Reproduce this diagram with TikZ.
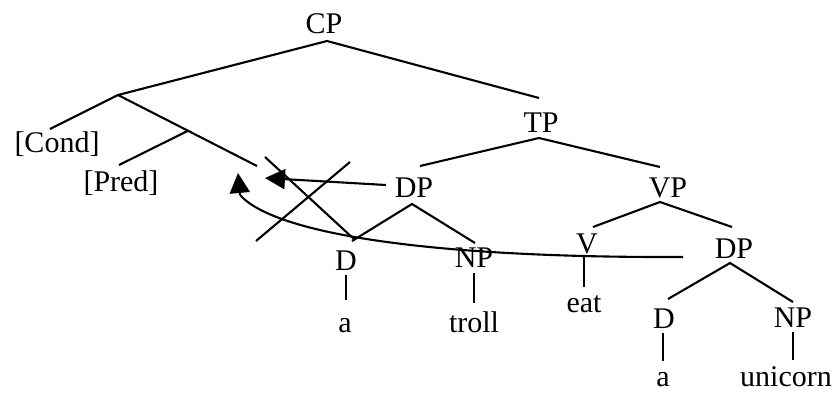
\documentclass[tikz,border=0pt]{standalone}
\usepackage{fontspec}
\setmainfont{Liberation Serif}
\usetikzlibrary{arrows.meta}
\begin{document}
\begin{tikzpicture}[x=1pt,y=-1pt,
  lbl/.style={anchor=base,inner sep=0pt,font=\fontsize{30}{36}\selectfont},
  br/.style={line width=2.1pt},
  arr/.style={line width=2.1pt,-{Triangle[length=20pt,width=20pt]}}]
\useasboundingbox (0,0) rectangle (838,392);
% labels
\node[lbl] (CP) at (324,33) {CP};
\node[lbl] (TP) at (541,132) {TP};
\node[lbl] (DP) at (414,197) {DP};
\node[lbl] (VP) at (668,197) {VP};
\node[lbl] (Cond) at (57,152) {[Cond]};
\node[lbl] (Pred) at (121,191) {[Pred]};
\node[lbl] (D) at (346,270) {D};
\node[lbl] (NP) at (474,267) {NP};
\node[lbl] (V) at (587,253) {V};
\node[lbl] (DPb) at (734,258) {DP};
\node[lbl] (a) at (345,332) {a};
\node[lbl] (troll) at (474,332) {troll};
\node[lbl] (eat) at (584,312) {eat};
\node[lbl] (Db) at (664,328) {D};
\node[lbl] (NPb) at (793,327) {NP};
\node[lbl] (ab) at (663,386) {a};
\node[lbl] (unicorn) at (786,386) {unicorn};
% branch coordinates
\coordinate (cpA) at (327,41);
\coordinate (cL) at (118,95);
\coordinate (cpR) at (539,98);
\coordinate (condE) at (50,129);
\coordinate (cE) at (257,166);
\coordinate (pS) at (188,130.8);
\coordinate (predE) at (119,165);
\coordinate (tpA) at (539,138);
\coordinate (tpL) at (420,166);
\coordinate (tpR) at (660,167);
\coordinate (dpA) at (412,204);
\coordinate (dpL) at (352,241);
\coordinate (dpR) at (475,243);
\coordinate (dT) at (346,275);
\coordinate (dB) at (346,300);
\coordinate (npT) at (474,273);
\coordinate (npB) at (474,303);
\coordinate (vpA) at (660,202);
\coordinate (vpL) at (593,227);
\coordinate (vpR) at (732,227);
\coordinate (vT) at (584,257);
\coordinate (vB) at (584,287);
\coordinate (dpbA) at (730,263);
\coordinate (dpbL) at (668,299);
\coordinate (dpbR) at (793,302);
\coordinate (dbT) at (663,333);
\coordinate (dbB) at (663,361);
\coordinate (npbT) at (793,332);
\coordinate (npbB) at (793,360);
\coordinate (xA1) at (265,157);
\coordinate (xA2) at (355,240);
\coordinate (xB1) at (350,162);
\coordinate (xB2) at (256,241);
\coordinate (ar1s) at (386,185);
\coordinate (ar1t) at (265,178);
\coordinate (ar2s) at (683,257);
\coordinate (ar2b) at (240,195);
\coordinate (ar2t) at (238,173);
% tree
\draw[br] (cL) -- (cpA) -- (cpR);
\draw[br] (condE) -- (cL) -- (cE);
\draw[br] (predE) -- (pS);
\draw[br] (tpL) -- (tpA) -- (tpR);
\draw[br] (dpL) -- (dpA) -- (dpR);
\draw[br] (dT) -- (dB);
\draw[br] (npT) -- (npB);
\draw[br] (vpL) -- (vpA) -- (vpR);
\draw[br] (vT) -- (vB);
\draw[br] (dpbL) -- (dpbA) -- (dpbR);
\draw[br] (dbT) -- (dbB);
\draw[br] (npbT) -- (npbB);
% cross
\draw[br] (xA1) -- (xA2);
\draw[br] (xB1) -- (xB2);
% movement arrows
\draw[arr] (ar1s) -- (ar1t);
\draw[br] (ar2s) .. controls (430,258) and (275,234) .. (ar2b);
\draw[arr] (ar2b) -- (ar2t);
\end{tikzpicture}
\end{document}
